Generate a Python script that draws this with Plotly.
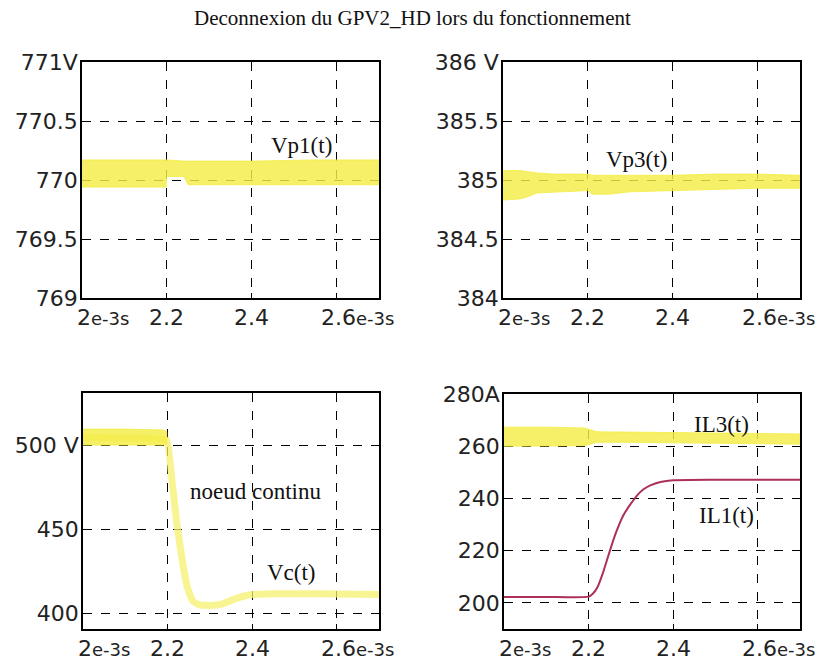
import numpy as np
import plotly.graph_objects as go
from plotly.subplots import make_subplots

# ---------------- data (time in ms) ----------------
TITLE = "Deconnexion du GPV2_HD lors du fonctionnement"

# Vp1(t): ripple envelope of the first PV voltage
t_vp1 = [2.0, 2.1, 2.198, 2.2, 2.24, 2.25, 2.4, 2.55, 2.7]
vp1_hi = [770.17, 770.17, 770.17, 770.17, 770.16, 770.16, 770.16, 770.17, 770.17]
vp1_lo = [769.94, 769.94, 769.94, 770.03, 770.03, 769.96, 769.96, 769.96, 769.96]

# Vp3(t): ripple envelope of the third PV voltage
t_vp3 = [2.0, 2.04, 2.06, 2.08, 2.12, 2.2, 2.21, 2.25, 2.3, 2.4, 2.5, 2.6, 2.7]
vp3_hi = [385.08, 385.08, 385.07, 385.06, 385.05, 385.05, 385.04, 385.04, 385.04, 385.04, 385.05, 385.05, 385.04]
vp3_lo = [384.83, 384.84, 384.86, 384.89, 384.90, 384.91, 384.88, 384.88, 384.90, 384.91, 384.92, 384.93, 384.93]

# Vc(t): DC bus voltage (mean trace)
t_vc = [2.0, 2.05, 2.1, 2.15, 2.198, 2.21, 2.221, 2.235, 2.247, 2.26, 2.275, 2.3, 2.33, 2.36, 2.38, 2.4, 2.45, 2.55, 2.7]
vc = [504.5, 504.5, 504, 504, 503, 480, 455, 431, 415, 407, 404.8, 404.5, 405.5, 408.5, 410, 411, 411.5, 411.5, 411]
# Vc(t) ripple envelope before the disconnection
t_vc_rip = [2.0, 2.1, 2.19, 2.198]
vc_rip_hi = [509.5, 509.5, 509, 508]
vc_rip_lo = [500.0, 500.0, 500.0, 500.5]

# IL3(t): ripple envelope of inductor current 3
t_il3 = [2.0, 2.1, 2.19, 2.22, 2.3, 2.4, 2.5, 2.6, 2.7]
il3_hi = [267.3, 267.3, 267.0, 265.5, 265.4, 265.2, 265.0, 264.8, 264.7]
il3_lo = [260.0, 260.0, 260.2, 261.5, 261.5, 261.3, 261.1, 260.9, 260.8]

# IL1(t): inductor current 1
t_il1 = [2.0, 2.1, 2.2, 2.21, 2.221, 2.235, 2.252, 2.265, 2.282, 2.3, 2.315, 2.33, 2.346, 2.37, 2.4, 2.5, 2.7]
il1 = [202.3, 202.3, 202.4, 203.5, 206, 212, 220.8, 227, 233.5, 238, 241.2, 243.5, 245, 246.3, 247, 247.2, 247.2]

# axis ticks
x_ticks_ms = [2.0, 2.2, 2.4, 2.6]
x_tick_text = ["2<span style='font-size:18px'>e-3s</span>", "2.2", "2.4",
               "2.6<span style='font-size:18px'>e-3s</span>"]
y1_ticks = [769, 769.5, 770, 770.5, 771]
y1_text = ["769", "769.5", "770", "770.5", "771V"]
y2_ticks = [384, 384.5, 385, 385.5, 386]
y2_text = ["384", "384.5", "385", "385.5", "386 V"]
y3_ticks = [400, 450, 500]
y3_text = ["400", "450", "500 V"]
y4_ticks = [200, 220, 240, 260, 280]
y4_text = ["200", "220", "240", "260", "280A"]

# in-plot labels: (text, t_ms, value)
labels = [
    [("Vp1(t)", 2.518, 770.29)],
    [("Vp3(t)", 2.315, 385.17)],
    [("noeud continu", 2.409, 472.4), ("Vc(t)", 2.494, 424.0)],
    [("IL3(t)", 2.515, 268.5), ("IL1(t)", 2.527, 233.5)],
]

# ---------------- styling ----------------
W, H = 824, 663
YELLOW = "rgba(243,237,70,0.82)"
PALE_YELLOW = "rgba(246,240,110,0.75)"
IL1_COLOR = "rgb(172,48,88)"
TICK_FONT = dict(family="DejaVu Sans, Arial, sans-serif", size=22, color="#222")
SERIF = "Liberation Serif, Times New Roman, serif"

def ms(a):
    return np.asarray(a, dtype=float) * 1e-3

fig = make_subplots(rows=2, cols=2)

def band(t, hi, lo, row, col):
    x = np.concatenate([ms(t), ms(t)[::-1]])
    y = np.concatenate([np.asarray(hi), np.asarray(lo)[::-1]])
    fig.add_trace(go.Scatter(x=x, y=y, fill="toself", fillcolor=YELLOW,
                             line=dict(color=YELLOW, width=1), mode="lines",
                             hoverinfo="skip", showlegend=False), row=row, col=col)

band(t_vp1, vp1_hi, vp1_lo, 1, 1)
band(t_vp3, vp3_hi, vp3_lo, 1, 2)
fig.add_trace(go.Scatter(x=ms(t_vc), y=vc, mode="lines",
                         line=dict(color=PALE_YELLOW, width=7, shape="spline", smoothing=0.3),
                         showlegend=False), row=2, col=1)
band(t_vc_rip, vc_rip_hi, vc_rip_lo, 2, 1)
band(t_il3, il3_hi, il3_lo, 2, 2)
fig.add_trace(go.Scatter(x=ms(t_il1), y=il1, mode="lines",
                         line=dict(color=IL1_COLOR, width=2, shape="spline", smoothing=0.6),
                         showlegend=False), row=2, col=2)

# subplot placement in pixels: (left, right, top, bottom)
boxes = [(82, 379, 62, 298), (503, 800, 62, 298), (83, 379, 393, 629), (504, 800, 394, 629)]
y_specs = [
    ([769, 771], y1_ticks, y1_text),
    ([384, 386], y2_ticks, y2_text),
    ([390.5, 531], y3_ticks, y3_text),
    ([190, 280], y4_ticks, y4_text),
]

for i, ((l, r, tp, bt), (yr, yt, ytx)) in enumerate(zip(boxes, y_specs)):
    sfx = "" if i == 0 else str(i + 1)
    fig.layout["xaxis" + sfx].update(
        domain=[l / W, r / W], range=[2.0e-3, 2.7e-3],
        tickvals=list(ms(x_ticks_ms)), showticklabels=False,
        ticks="inside", ticklen=5, tickcolor="black",
        showgrid=True, gridcolor="black", griddash="dash", gridwidth=1,
        showline=True, linecolor="black", linewidth=1.5, mirror=True,
        zeroline=False, fixedrange=True)
    fig.layout["yaxis" + sfx].update(
        domain=[1 - bt / H, 1 - tp / H], range=yr,
        tickvals=yt, ticktext=ytx, tickfont=TICK_FONT,
        ticks="", ticklabelstandoff=-2,
        showgrid=True, gridcolor="black", griddash="dash", gridwidth=1,
        showline=True, linecolor="black", linewidth=1.5, mirror=True,
        zeroline=False, fixedrange=True)

    xref = "x" + sfx
    # x tick labels: numeric part centred on the tick, unit suffix trailing
    for tv, tt in zip(x_ticks_ms, x_tick_text):
        if "span" in tt:
            num = tt.split("<")[0]
            shift = -7 if len(num) == 1 else -18
            anchor = "left"
        else:
            shift, anchor = 0, "center"
        fig.add_annotation(x=tv * 1e-3, y=0, xref=xref, yref=f"y{sfx} domain",
                           text=tt, showarrow=False, xanchor=anchor, yanchor="top",
                           xshift=shift, yshift=-5, font=TICK_FONT)
    for txt, tx, ty in labels[i]:
        fig.add_annotation(x=tx * 1e-3, y=ty, xref=xref, yref="y" + sfx,
                           text=txt, showarrow=False,
                           font=dict(family=SERIF, size=23, color="#111"))

fig.add_annotation(x=0.5, y=1 - 18 / H, xref="paper", yref="paper", text=TITLE,
                   showarrow=False, xanchor="center", yanchor="middle",
                   font=dict(family=SERIF, size=21, color="#111"))

fig.update_layout(width=W, height=H, margin=dict(l=0, r=0, t=0, b=0, autoexpand=False),
                  paper_bgcolor="white", plot_bgcolor="white", showlegend=False)

fig.write_html("out.html")
